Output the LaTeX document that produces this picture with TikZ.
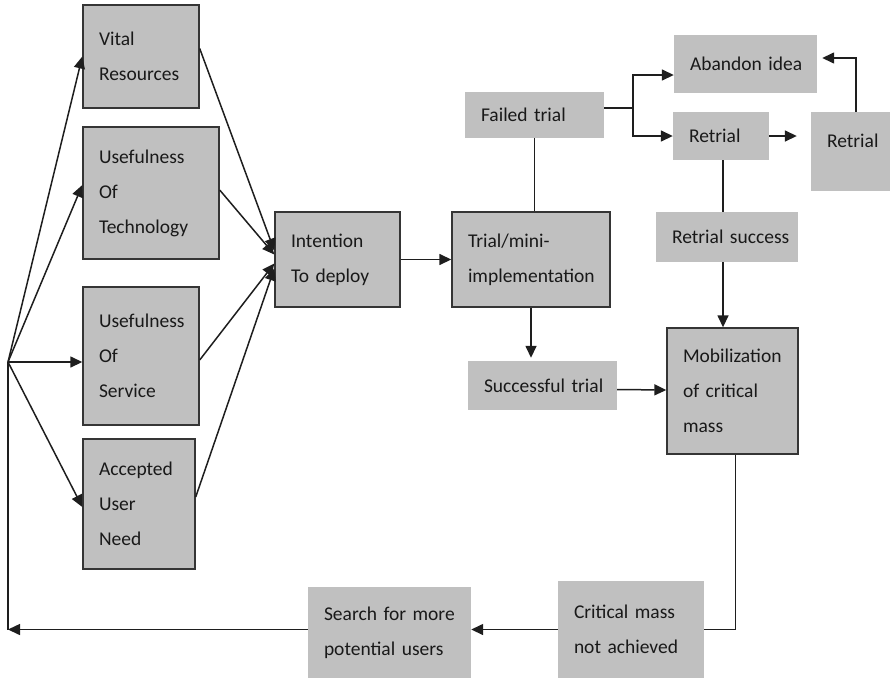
\documentclass[tikz,border=0pt]{standalone}
\usepackage{fontspec}
\setmainfont{Carlito}[WordSpace=0.45]
\usetikzlibrary{arrows.meta,calc}
\definecolor{boxgray}{RGB}{192,192,192}
\definecolor{edgecol}{RGB}{30,30,30}
\hyphenpenalty=10000
\begin{document}
\begin{tikzpicture}[x=1pt,y=-1pt,
  base/.style={fill=boxgray, align=left, inner xsep=16pt, inner ysep=0pt,
    font=\fontsize{19.5}{35}\selectfont, text=black!90},
  fbox/.style={base, draw=edgecol!90, line width=1.4pt},
  pbox/.style={base, draw=none},
  ln/.style={draw=edgecol, line width=1.5pt},
  arr/.style={ln, -{Triangle[length=12pt,width=11pt]}}]
\useasboundingbox (0,0) rectangle (890,680);

% left column
\node[fbox, text width=84pt, minimum height=103pt] (vr) at (141,56.5) {Vital\\Resources};
\node[fbox, text width=104pt, minimum height=132pt] (ut) at (151,193) {Usefulness\\Of\\Technology};
\node[fbox, text width=84pt, minimum height=138pt] (us) at (141,356) {Usefulness\\Of\\Service};
\node[fbox, text width=80pt, minimum height=130pt] (an) at (139,504) {Accepted\\User\\Need};

% middle
\node[fbox, text width=93pt, minimum height=95pt] (int) at (337.5,259.5) {Intention\\To deploy};
\node[fbox, text width=126pt, minimum height=95pt] (tr) at (531,259.5) {Trial/mini-\\implementation};
\node[pbox, text width=107pt, minimum height=46pt] (ft) at (534.5,115) {\mbox{Failed trial}};
\node[pbox, text width=117pt, minimum height=49pt] (ss) at (542.5,385.5) {\mbox{Successful trial}};

% right
\node[pbox, text width=111pt, minimum height=58pt] (ab) at (745.5,64) {\mbox{Abandon idea}};
\node[pbox, text width=64pt, minimum height=48pt] (rt1) at (721,136) {\mbox{Retrial}};
\node[pbox, text width=47pt, minimum height=79pt, text height=13.5pt, text depth=22pt] (rt2) at (850.5,151.5) {\mbox{Retrial}};
\node[pbox, text width=110pt, minimum height=50pt] (rs) at (727,237) {\mbox{Retrial success}};
\node[fbox, text width=99pt, minimum height=126pt] (mob) at (732.5,391) {Mobilization\\of critical\\mass};

% bottom
\node[pbox, text width=114pt, minimum height=97pt] (cm) at (631,629.5) {Critical mass\\not achieved};
\node[pbox, text width=131pt, minimum height=91pt] (sr) at (389.5,632.5) {Search for more\\potential users};

% hub
\coordinate (hub) at (8,362);
\coordinate (hubb) at (hub |- cm.west);

\draw[arr] (hub) -- (vr.west);
\draw[arr] (hub) -- ($(ut.west)+(0,-8)$);
\draw[arr] (hub) -- (hub -| us.west);
\draw[arr] (hub) -- ($(an.west)+(0,3)$);
\draw[ln] (hub) -- (hubb);
\draw[arr] (sr.west |- cm.west) -- (hubb);

% into intention
\draw[arr] ($(vr.east)+(0,-8)$) -- ($(int.west)+(0,-9)$);
\draw[arr] ($(ut.east)+(0,-3)$) -- ($(int.west)+(0,-5)$);
\draw[arr] ($(us.east)+(0,4)$) -- ($(int.west)+(0,4)$);
\draw[arr] ($(an.east)+(0,-7)$) -- ($(int.west)+(0,9)$);

\draw[arr] (int.east) -- (tr.west);
\draw[ln] (ft.south) -- (ft.south |- tr.north);
\draw[arr, shorten >=3pt] (tr.south) -- (tr.south |- ss.north);
\draw[arr] ($(ss.east)+(0,4)$) -- ($(mob.west)+(0,-1)$);

% failed trial split
\coordinate (sp) at (633,108);
\draw[ln] ($(ft.east)+(0,-7)$) -- (sp);
\draw[arr] (sp) |- ($(ab.west)+(0,11)$);
\draw[arr] (sp) |- (rt1.west);

\draw[arr, shorten >=14pt] (rt1.east) -- (rt1.east -| rt2.west);
\draw[arr, shorten >=5pt] ($(rt2.north)+(5.5,0)$) |- ($(ab.east)+(0,-6)$);

\coordinate (rx) at (723,0);
\draw[ln] (rt1.south -| rx) -- (rs.north -| rx);
\draw[arr] (rs.south -| rx) -- (mob.north -| rx);

\draw[ln] ($(mob.south)+(3,0)$) |- (cm.east);
\draw[arr] (cm.west) -- (cm.west -| sr.east);
\end{tikzpicture}
\end{document}
